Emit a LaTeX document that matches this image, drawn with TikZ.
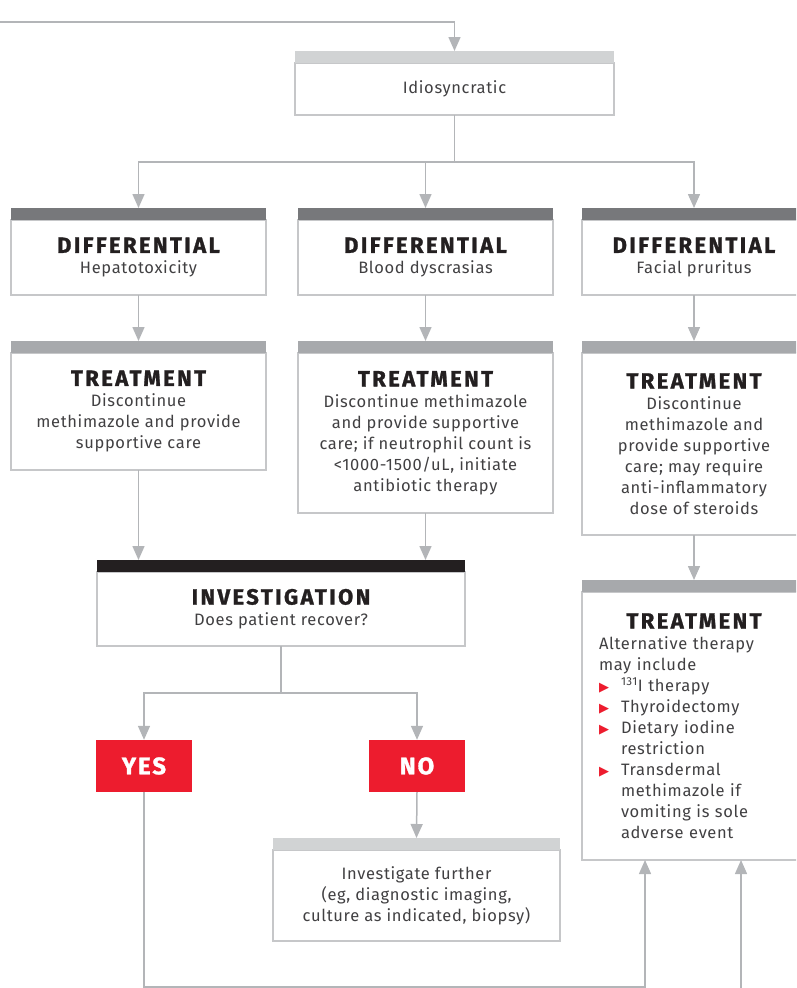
\documentclass[tikz,border=0pt]{standalone}
\usepackage{fontspec}
\setmainfont{Fira Sans}
\newfontfamily\symfont{DejaVu Sans}
\usetikzlibrary{positioning,arrows.meta}

\definecolor{linegray}{HTML}{B3B5B8}
\definecolor{boxline}{HTML}{C6C7C9}
\definecolor{barlight}{HTML}{D1D3D4}
\definecolor{barmid}{HTML}{A7A9AC}
\definecolor{bardark}{HTML}{77787B}
\definecolor{barblack}{HTML}{231F20}
\definecolor{redc}{HTML}{ED1C2E}
\definecolor{bodytext}{HTML}{414042}
\definecolor{headc}{HTML}{231F20}

\newcommand\hd[1]{{\fontsize{22}{21}\bfseries\addfontfeatures{LetterSpace=11,FakeBold=1.2}\color{headc}#1}}
\newcommand\bul{\makebox[22pt][l]{\hspace{0pt}{\symfont\fontsize{13}{13}\selectfont\color{redc}▶}}}

\tikzset{
  conn/.style={draw=linegray, line width=1.5pt},
  arr/.style={conn, -{Triangle[width=12pt,length=14pt]}},
  body/.style={draw=boxline, line width=1.2pt, fill=white, inner sep=0pt, outer sep=0pt,
    align=center, text=bodytext, font=\fontsize{16.5}{21}\selectfont\addfontfeatures{LetterSpace=4}},
  bar/.style={fill=#1, minimum height=12pt, inner sep=0pt, outer sep=0pt},
  answer/.style={fill=redc, text=white, minimum width=96pt, minimum height=52pt, inner sep=0pt,
    font=\fontsize{24}{24}\bfseries\addfontfeatures{LetterSpace=8,FakeBold=1.2}}
}

\begin{document}
\begin{tikzpicture}[x=1pt,y=-1pt]
    \useasboundingbox (0,0) rectangle (796,988);
    \clip (0,0) rectangle (796,988);
    %% idiosyncratic
    \coordinate (in) at (0,22);
    \node[body, minimum width=319pt, minimum height=52pt, anchor=north] (idio) at (454.5,63) {Idiosyncratic};
    \node[bar=barlight, minimum width=319pt, above=0pt of idio] (idiobar) {};
    \draw[arr] (in) -| (idiobar.north);
    %% differentials
    \node[body, minimum width=255pt, minimum height=75pt, anchor=north] (diffA) at (138.5,220) {\hd{DIFFERENTIAL}\\Hepatotoxicity};
    \node[bar=bardark, minimum width=255pt, above=0pt of diffA] (diffAbar) {};
    \node[body, minimum width=255pt, minimum height=75pt, anchor=north] (diffB) at (425.5,220) {\hd{DIFFERENTIAL}\\Blood dyscrasias};
    \node[bar=bardark, minimum width=255pt, above=0pt of diffB] (diffBbar) {};
    \node[body, minimum width=224pt, minimum height=75pt, anchor=north] (diffC) at (694,220) {\hd{DIFFERENTIAL}\\Facial pruritus};
    \node[bar=bardark, minimum width=224pt, above=0pt of diffC] (diffCbar) {};
    \draw[arr] (idio.south) -- ++(0,47) -| (diffAbar.north);
    \draw[arr] (idio.south) -- ++(0,47) -| (diffBbar.north);
    \draw[arr] (idio.south) -- ++(0,47) -| (diffCbar.north);
    %% treatments
    \node[body, minimum width=255pt, minimum height=117pt, anchor=north] (trA) at (138.5,353)
        {\hd{TREATMENT}\\Discontinue\\methimazole and provide\\supportive care};
    \node[bar=barmid, minimum width=255pt, above=0pt of trA] (trAbar) {};
    \node[body, minimum width=255pt, minimum height=160pt, anchor=north] (trB) at (425.5,353)
        {\hd{TREATMENT}\\Discontinue methimazole\\and provide supportive\\care; if neutrophil count is\\<1000-1500/uL, initiate\\antibiotic therapy};
    \node[bar=barmid, minimum width=255pt, above=0pt of trB] (trBbar) {};
    \node[body, minimum width=224pt, minimum height=182pt, anchor=north] (trC) at (694,353)
        {\hd{TREATMENT}\\Discontinue\\methimazole and\\provide supportive\\care; may require\\anti-inflammatory\\dose of steroids};
    \node[bar=barmid, minimum width=224pt, above=0pt of trC] (trCbar) {};
    \draw[arr] (diffA) -- (trAbar);
    \draw[arr] (diffB) -- (trBbar);
    \draw[arr] (diffC) -- (trCbar);
    %% investigation
    \node[body, minimum width=368pt, minimum height=74pt, anchor=north] (inv) at (281,572)
        {\hd{INVESTIGATION}\\Does patient recover?};
    \node[bar=barblack, minimum width=368pt, above=0pt of inv] (invbar) {};
    \draw[arr] (trA.south) -- (trA.south |- invbar.north);
    \draw[arr] (trB.south) -- (trB.south |- invbar.north);
    %% yes / no
    \node[answer] (yes) at (144,766) {YES};
    \node[answer] (no) at (417,766) {NO};
    \draw[arr] (inv.south) -- ++(0,47) -| (yes.north);
    \draw[arr] (inv.south) -- ++(0,47) -| (no.north);
    %% further
    \node[body, minimum width=287pt, minimum height=91pt, anchor=north] (further) at (416.5,850)
        {Investigate further\\(eg, diagnostic imaging,\\culture as indicated, biopsy)};
    \node[bar=barlight, minimum width=287pt, above=0pt of further] (furtherbar) {};
    \draw[arr] (no.south) -- (furtherbar.north);
    %% alternative therapy
    \node[body, minimum width=224pt, minimum height=268pt, anchor=north, text width=190pt, align=left] (tr2) at (694,592)
        {\makebox[190pt][c]{\hd{TREATMENT}}\\
         Alternative therapy\\
         may include\\
         \bul\textsuperscript{131}I therapy\\
         \bul Thyroidectomy\\
         \bul Dietary iodine\\
         \hspace*{22pt}restriction\\
         \bul Transdermal\\
         \hspace*{22pt}methimazole if\\
         \hspace*{22pt}vomiting is sole\\
         \hspace*{22pt}adverse event};
    \node[bar=barmid, minimum width=224pt, above=0pt of tr2] (tr2bar) {};
    \draw[arr] (trC) -- (tr2bar);
    %% loops back
    \coordinate (back) at ([xshift=63pt]tr2.south west);
    \coordinate (out) at (741,988);
    \draw[arr] (yes.south) -- (yes.south |- 0,987) -| (back);
    \draw[arr] (out) -- (out |- tr2.south);
\end{tikzpicture}
\end{document}
